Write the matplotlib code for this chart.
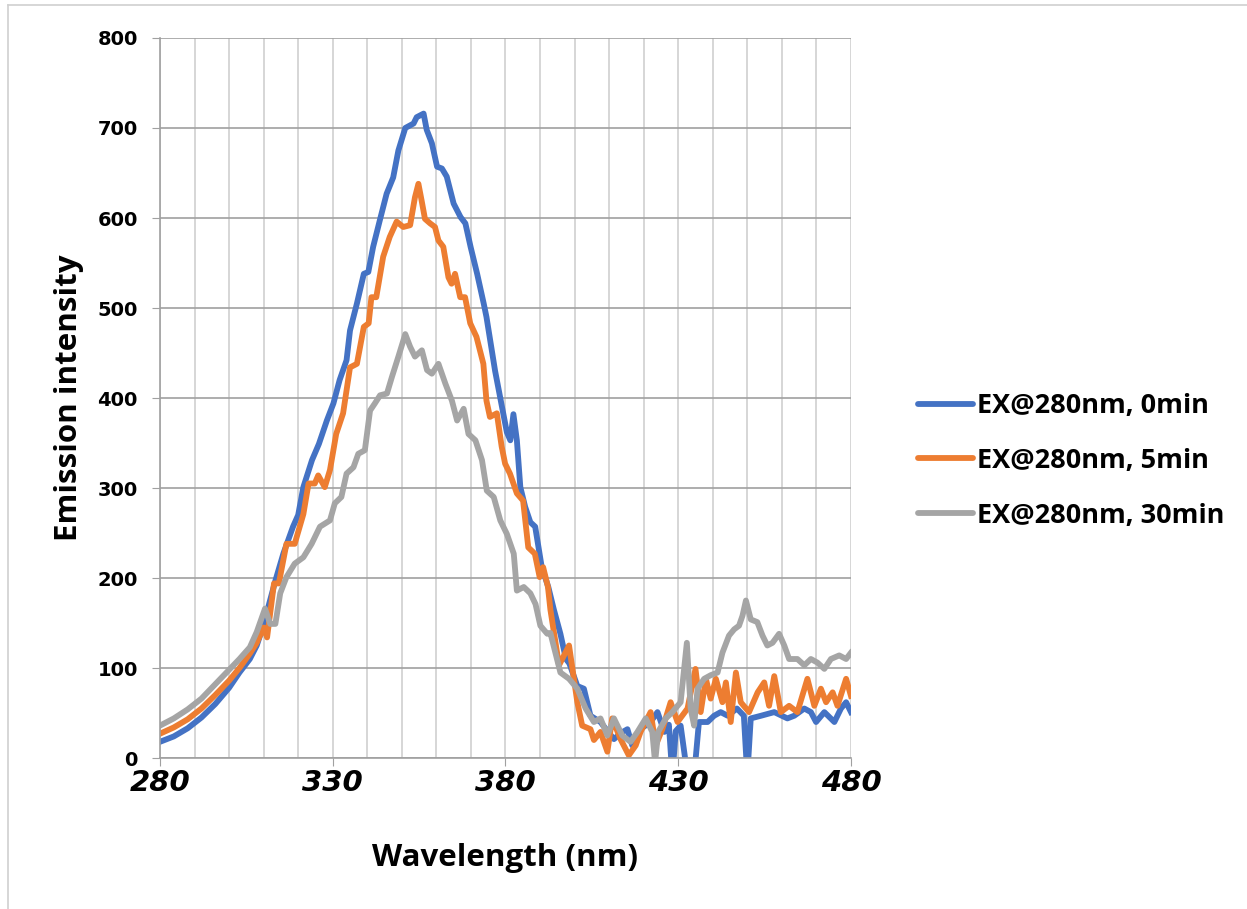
import matplotlib.pyplot as plt
from matplotlib.lines import Line2D

# emission spectra (wavelength nm, intensity)
blue_x = [280, 284, 288, 292, 296, 300, 303, 306, 308, 310, 311.5, 313.4, 315.7, 318.5, 320,
          321.5, 324, 326, 328.3, 330.2, 332, 334, 335, 337, 339, 340.3, 341.7, 343.6, 345.6,
          347.5, 349, 351, 353.4, 354.3, 356.3, 357.2, 358.7, 360.2, 361.6, 363, 365, 367,
          368.4, 369.9, 371.8, 373.7, 374.5, 377, 379, 380.4, 381.4, 382.3, 383.3, 384.3,
          385.7, 387.2, 388.6, 390.5, 392.4, 394, 395.9, 397.5, 398.5, 400.8, 402.7, 404.6,
          407.5, 409.5, 411.4, 413.5, 415.3, 416.7, 419, 422, 424, 426, 427.3, 428.3, 429.3,
          430.7, 432.7, 434.6, 436, 438.5, 440.4, 442.3, 444.3, 447, 449, 450, 451, 454,
          457.8, 461.6, 463.6, 466.5, 468.4, 469.9, 472.3, 475.2, 477.1, 478.6, 480]
blue_y = [18, 24, 33, 45, 60, 78, 95, 110, 125, 148, 170, 197, 227, 257, 270,
          301, 331, 349, 375, 394, 420, 442, 475, 505, 538, 540, 568, 597, 627,
          645, 675, 700, 705, 712, 716, 698, 683, 657, 655, 646, 616, 601,
          594, 568, 538, 505, 490, 430, 390, 362, 353, 382, 353, 301,
          279, 262, 257, 212, 190, 165, 138, 110, 105, 80, 77, 47,
          40, 30, 21, 28, 32, 14, 32, 40, 51, 29, 37, -20, 30,
          36, -20, -20, 40, 40, 47, 51, 47, 55, 47, -20, 44, 47,
          51, 44, 47, 55, 51, 40, 51, 40, 55, 62, 51]

orange_x = [280, 284, 288, 292, 296, 300, 303, 306, 308, 310, 311, 313, 314.4, 316.6, 319,
            321.5, 323, 324.8, 325.8, 327.7, 329.2, 331, 333, 335, 337, 339, 340.4, 341.2,
            342.6, 344.6, 346.5, 348.5, 350.4, 352.4, 353.8, 354.8, 355.7, 356.7, 358.2,
            359.6, 360.6, 362, 363.5, 364.4, 365.4, 366.9, 368.3, 369.8, 371.6, 373.6, 374.5,
            375.5, 377.5, 378.9, 379.9, 381.3, 383.3, 385.1, 386.6, 388.5, 389.9, 390.9,
            392.3, 393, 395.5, 398.4, 400.8, 402.2, 404.6, 405.6, 407.5, 409.5, 410.9, 413.3,
            415.7, 417.7, 419.1, 422, 423.5, 425.4, 427.8, 429.8, 432.7, 435, 436.5, 438,
            439.4, 440.9, 442.8, 443.8, 445.2, 446.7, 448.1, 450.5, 453, 454.9, 456.3, 457.8,
            459.7, 462.1, 464.5, 467.4, 469.4, 471.3, 472.8, 474.7, 476.1, 478.6, 480]
orange_y = [27, 34, 43, 55, 70, 86, 100, 116, 128, 145, 134, 194, 194, 238, 238,
            271, 305, 305, 314, 301, 320, 360, 383, 434, 438, 479, 483, 512,
            512, 557, 579, 596, 590, 592, 623, 638, 620, 599, 594,
            590, 575, 568, 534, 527, 538, 512, 512, 483, 468, 438, 397,
            379, 383, 346, 327, 316, 294, 286, 234, 227, 201, 212,
            190, 165, 103, 125, 62, 36, 32, 20, 29, 7, 44, 21,
            3, 14, 29, 51, 14, 32, 62, 40, 55, 99, 51, 88,
            66, 88, 62, 84, 40, 95, 62, 51, 73, 84, 58, 91,
            51, 58, 51, 88, 58, 77, 62, 73, 58, 88, 69]

gray_x = [280, 284, 288, 292, 296, 300, 303, 306, 308, 310.4, 311.9, 313.4, 314.8, 316.6, 319,
          321.5, 323.9, 326.3, 329.2, 330.6, 332.5, 334, 336, 337.4, 339.3, 340.8, 342.2,
          343.7, 345.7, 347.1, 349, 351, 352.4, 353.8, 355.8, 357.3, 358.7, 360.6, 362.6,
          364.5, 366, 367.9, 369.3, 371.3, 373.2, 374.6, 376.6, 378.5, 380.4, 382.4, 383.3,
          385.3, 387.2, 388.7, 390.1, 392.1, 393, 395.9, 398.4, 400.8, 403.2, 405.6, 407.5,
          409.5, 411.4, 413.8, 416.2, 418.2, 420.6, 422.5, 423.3, 424.2, 426.4, 428.3, 430.7,
          432.5, 433.6, 434.6, 435.6, 437.5, 439.4, 441.4, 442.8, 444.7, 446.2, 447.6, 448.6,
          449.6, 451, 452.9, 454.4, 455.8, 457.3, 459.2, 460.7, 462.1, 464.5, 466.5, 468.4,
          470.3, 472.3, 474.2, 476.6, 478.6, 480]
gray_y = [36, 44, 54, 66, 82, 98, 110, 123, 140, 166, 149, 149, 183, 201, 216,
          223, 238, 257, 264, 283, 290, 316, 323, 338, 342, 386, 394,
          403, 405, 423, 446, 471, 457, 446, 453, 431, 427, 438, 416,
          397, 375, 388, 360, 353, 331, 297, 290, 264, 249, 227, 186,
          190, 183, 171, 147, 138, 139, 95, 88, 77, 55, 40, 44,
          25, 44, 25, 18, 29, 44, 29, -5, 29, 44, 51, 62,
          128, 55, 36, 77, 88, 92, 95, 117, 136, 143, 147, 158,
          175, 154, 151, 136, 125, 128, 138, 125, 110, 110, 103, 110,
          106, 99, 110, 114, 110, 117]

labels = ['EX@280nm, 0min', 'EX@280nm, 5min', 'EX@280nm, 30min']
colors = ['#4472C4', '#ED7D31', '#A5A5A5']
x_ticks = [280, 330, 380, 430, 480]
y_ticks = [0, 100, 200, 300, 400, 500, 600, 700, 800]

fig = plt.figure(figsize=(12.47, 9.09), dpi=100)
ax = fig.add_axes([0.1283, 0.1661, 0.5541, 0.7921])

series = [(blue_x, blue_y), (orange_x, orange_y), (gray_x, gray_y)]
for (xs, ys), c, lab in zip(series, colors, labels):
    ax.plot(xs, ys, color=c, lw=4.2, label=lab, solid_joinstyle='round')

ax.set_xlim(280, 480)
ax.set_ylim(0, 800)
ax.set_xticks(x_ticks)
ax.set_xticks(range(280, 481, 10), minor=True)
ax.set_yticks(y_ticks)

ax.grid(axis='x', which='both', color='#d0d0d0', lw=1.2)
ax.grid(axis='y', which='major', color='#a0a0a0', lw=1.2)
ax.set_axisbelow(True)

for s in ['top', 'right']:
    ax.spines[s].set_visible(False)
for s in ['left', 'bottom']:
    ax.spines[s].set_color('#a0a0a0')
    ax.spines[s].set_linewidth(1.2)

ax.tick_params(axis='x', which='major', length=6, color='#a0a0a0', pad=2)
ax.tick_params(axis='x', which='minor', length=0)
ax.tick_params(axis='y', length=6, color='#a0a0a0', pad=10)

for t in ax.get_yticklabels():
    t.set_fontsize(14)
    t.set_fontweight('bold')
for t in ax.get_xticklabels():
    t.set_fontsize(21)
    t.set_fontweight('bold')
    t.set_fontstyle('italic')

ax.set_xlabel('Wavelength (nm)', fontsize=22.5, fontweight='bold', family='Open Sans', labelpad=33)
ax.set_ylabel('Emission intensity', fontsize=22.5, fontweight='bold', family='Open Sans', labelpad=10)

handles = [Line2D([0], [0], color=c, lw=4.2, solid_capstyle='round') for c in colors]
fig.legend(handles, labels, loc='center left', bbox_to_anchor=(0.717, 0.493),
           frameon=False, handlelength=2.0, handletextpad=0.15, labelspacing=1.06,
           prop={'family': 'Open Sans', 'weight': 'bold', 'size': 19.5})

# outer chart frame
fig.add_artist(Line2D([8 / 1247, 8 / 1247], [0, 1 - 5 / 909], transform=fig.transFigure,
                      color='#d0d0d0', lw=1.2))
fig.add_artist(Line2D([8 / 1247, 1], [1 - 5 / 909, 1 - 5 / 909], transform=fig.transFigure,
                      color='#d0d0d0', lw=1.2))

fig.savefig('out.png', dpi=100)
